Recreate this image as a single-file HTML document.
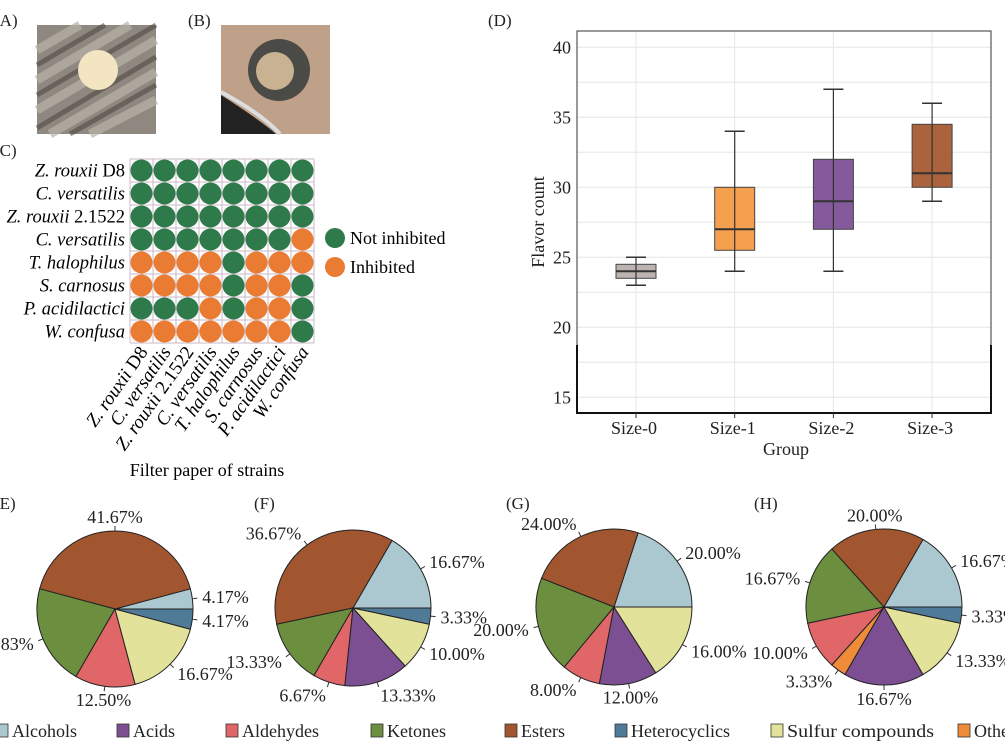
<!DOCTYPE html>
<html><head><meta charset="utf-8"><style>
body{margin:0;background:#fff}
svg{display:block;font-family:"Liberation Serif",serif}
</style></head><body>
<svg id="fig" width="1005" height="754" viewBox="0 0 1005 754">
<g font-size="17" fill="#222">
<text x="-6" y="26">(A)</text>
<text x="188" y="26">(B)</text>
<text x="-6" y="156">(C)</text>
<text x="488" y="26">(D)</text>
<text x="-6" y="509">(E)</text>
<text x="254" y="509">(F)</text>
<text x="506" y="509">(G)</text>
<text x="754" y="509">(H)</text>
</g>
<g>
<rect x="37" y="25" width="119" height="109" fill="#8e8880"/>
<path d="M37 50 L80 25 M37 80 L130 25 M37 110 L156 40 M50 134 L156 72 M90 134 L156 100" stroke="#b9b4a8" stroke-width="9" opacity="0.7"/>
<path d="M37 65 L105 25 M37 95 L156 25 M37 128 L156 57 M70 134 L156 85" stroke="#4f4a44" stroke-width="5" opacity="0.6"/>
<circle cx="98" cy="70" r="20" fill="#f3e4c2"/>
</g>
<g>
<rect x="221" y="25" width="109" height="109" fill="#bfa088"/>
<path d="M221 95 Q260 120 276 134 L221 134 Z" fill="#222"/>
<path d="M221 92 Q262 114 280 134" stroke="#ddd" stroke-width="4" fill="none"/>
<circle cx="279" cy="70" r="31" fill="#4a4a46"/>
<circle cx="275" cy="71" r="19" fill="#c9b291"/>
</g>
<g id="matrix"></g>
<g font-size="18">
<circle cx="335" cy="238" r="10" fill="#2e7a4a"/>
<text x="350" y="244">Not inhibited</text>
<circle cx="335" cy="267" r="10" fill="#ea7b33"/>
<text x="350" y="273">Inhibited</text>
</g>
<text x="207" y="476" font-size="18" text-anchor="middle">Filter paper of strains</text>
<g id="box"></g>
<g id="pies"></g>
<g id="pielegend" font-size="18"></g>
</svg>
<script>
const NS="http://www.w3.org/2000/svg";
function mk(p,tag,attrs){const e=document.createElementNS(NS,tag);for(const k in attrs)e.setAttribute(k,attrs[k]);p.appendChild(e);return e;}

// ---- Panel C data ----
const strains=["Z. rouxii D8","C. versatilis","Z. rouxii 2.1522","C. versatilis","T. halophilus","S. carnosus","P. acidilactici","W. confusa"];
const strainPrefix=[["Z. rouxii"," D8"],["C. versatilis",""],["Z. rouxii"," 2.1522"],["C. versatilis",""],["T. halophilus",""],["S. carnosus",""],["P. acidilactici",""],["W. confusa",""]];
const notInhibited=[
[1,1,1,1,1,1,1,1],
[1,1,1,1,1,1,1,1],
[1,1,1,1,1,1,1,1],
[1,1,1,1,1,1,1,0],
[0,0,0,0,1,0,0,0],
[0,0,0,0,1,0,0,1],
[1,1,1,0,1,0,0,1],
[0,0,0,0,0,0,0,1]];

// ---- Panel D data ----
const groups=["Size-0","Size-1","Size-2","Size-3"];
const whiskLo=[23,24,24,29];
const q1=[23.5,25.5,27,30];
const med=[24,27,29,31];
const q3=[24.5,30,32,34.5];
const whiskHi=[25,34,37,36];
const yTicks=[15,20,25,30,35,40];
const boxColors=["#b9b0ae","#f39b45","#7d5197","#a65b33"];

// ---- Pie data (CCW from 3 o'clock) ----
const classes=["Alcohols","Esters","Ketones","Aldehydes","Others","Acids","Sulfur compounds","Heterocyclics"];
const classColors=["#abc7cf","#a2562f","#6c8e3f","#e06668","#ef8c3a","#7b4f92","#e2e29b","#4f7b98"];
const pieE=[4.17,41.67,20.83,12.50,0,0,16.67,4.17];
const pieF=[16.67,36.67,13.33,6.67,0,13.33,10.00,3.33];
const pieG=[20.00,24.00,20.00,8.00,0,12.00,16.00,0];
const pieH=[16.67,20.00,16.67,10.00,3.33,16.67,13.33,3.33];
const legendOrder=["Alcohols","Acids","Aldehydes","Ketones","Esters","Heterocyclics","Sulfur compounds","Others"];

// ---- Draw matrix ----
(function(){
const g=document.getElementById('matrix');
const x0=130,y0=159,c=23;
for(let i=0;i<=8;i++){
 const l1=mk(g,'line',{x1:x0,x2:x0+8*c,y1:y0+i*c,y2:y0+i*c,stroke:'#c9b9c4','stroke-width':1});
 
 
 const l2=mk(g,'line',{y1:y0,y2:y0+8*c,x1:x0+i*c,x2:x0+i*c,stroke:'#c9b9c4','stroke-width':1});
 
 
}
notInhibited.forEach((row,r)=>{
 row.forEach((v,ci)=>{
  const e=mk(g,'circle',{cx:x0+ci*c+c/2,cy:y0+r*c+c/2,r:11,fill:v?'#2e7a4a':'#ea7b33'});
  
  
 });
 const t=mk(g,'text',{x:125,y:y0+r*c+c/2+6,'text-anchor':'end','font-size':18.5});
 
 
 const a=mk(t,'tspan',{'font-style':'italic'});a.textContent=strainPrefix[r][0];
 if(strainPrefix[r][1]){const b=mk(t,'tspan',{});b.textContent=strainPrefix[r][1];}
});
strains.forEach((s,ci)=>{
 const cx=x0+ci*c+c/2+7, cy=352;
 const t=mk(g,'text',{x:cx,y:cy,'text-anchor':'end','font-size':19,transform:`rotate(-55 ${cx} ${cy})`});
 
 
 const a=mk(t,'tspan',{'font-style':'italic'});a.textContent=strainPrefix[ci][0];
 if(strainPrefix[ci][1]){const b=mk(t,'tspan',{});b.textContent=strainPrefix[ci][1];}
});
})();

// ---- Draw boxplot ----
(function(){
const g=document.getElementById('box');
const L=577,R=991,T=31,B=413;
const Y=v=>47.3+(40-v)*14;
const X=i=>636+i*98.7;
for(let v=15;v<=40;v+=2.5){
 const l=mk(g,'line',{x1:L,x2:R,y1:Y(v),y2:Y(v),stroke:'#e6e6e6','stroke-width':1});
 
 
}
groups.forEach((gname,i)=>{
 const l=mk(g,'line',{x1:X(i),x2:X(i),y1:T,y2:B,stroke:'#e6e6e6','stroke-width':1});
 
 
});
const fr=mk(g,'rect',{x:L,y:T,width:R-L,height:B-T,fill:'none',stroke:'#333','stroke-width':1});


const fb=mk(g,'path',{d:`M${L} 345 V${B} H${R} V345`,fill:'none',stroke:'#111','stroke-width':2});


yTicks.forEach(v=>{
 const t=mk(g,'text',{x:L-6,y:Y(v)+6,'text-anchor':'end','font-size':18,fill:'#222'});
 
 
 t.textContent=v;
});
groups.forEach((gname,i)=>{
 const x=X(i),w=40;
 const wl=mk(g,'line',{x1:x,x2:x,y1:Y(whiskHi[i]),y2:Y(whiskLo[i]),stroke:'#333','stroke-width':1.2});
 
 
 [whiskHi[i],whiskLo[i]].forEach(v=>{
  const c=mk(g,'line',{x1:x-10,x2:x+10,y1:Y(v),y2:Y(v),stroke:'#333','stroke-width':1.5});
  
  
 });
 const r=mk(g,'rect',{x:x-w/2,y:Y(q3[i]),width:w,height:Y(q1[i])-Y(q3[i]),fill:boxColors[i],stroke:'#444','stroke-width':1,'fill-opacity':0.95});
 
 
 const ml=mk(g,'line',{x1:x,x2:x,y1:Y(q3[i]),y2:Y(q1[i]),stroke:'#333','stroke-width':1.2});
 
 
 const m=mk(g,'line',{x1:x-w/2,x2:x+w/2,y1:Y(med[i]),y2:Y(med[i]),stroke:'#333','stroke-width':2});
 
 
 const tk=mk(g,'line',{x1:x,x2:x,y1:B,y2:B+5,stroke:'#333'});
 
 
 const t=mk(g,'text',{x:x-2,y:434,'text-anchor':'middle','font-size':18,fill:'#222'});
 
 
 t.textContent=gname;
});
const xt=mk(g,'text',{x:786,y:455,'text-anchor':'middle','font-size':18,fill:'#222'});


xt.textContent='Group';
const yt=mk(g,'text',{x:544,y:222,'text-anchor':'middle','font-size':18,fill:'#222',transform:'rotate(-90 544 222)'});


yt.textContent='Flavor count';
})();

// ---- Draw pies ----
(function(){
const g=document.getElementById('pies');
const pies=[pieE,pieF,pieG,pieH];
const centers=[[115,609],[353,608],[614,607],[884,607]];
const r=78;
pies.forEach((vals,pi)=>{
 const [cx,cy]=centers[pi];
 const pg=mk(g,'g',{});
 
 
 const total=vals.reduce((a,b)=>a+b,0);
 let a0=0;
 vals.forEach((v,k)=>{
  if(v<=0)return;
  const a1=a0+v/total*2*Math.PI;
  const x0=cx+r*Math.cos(a0),y0=cy-r*Math.sin(a0),x1=cx+r*Math.cos(a1),y1=cy-r*Math.sin(a1);
  const large=(a1-a0)>Math.PI?1:0;
  const p=mk(pg,'path',{d:`M${cx} ${cy} L${x0} ${y0} A${r} ${r} 0 ${large} 0 ${x1} ${y1} Z`,fill:classColors[k],stroke:'#222','stroke-width':1});
  
  
  const am=(a0+a1)/2,ca=Math.cos(am),sa=-Math.sin(am);
  const tk=mk(pg,'line',{x1:cx+r*ca,y1:cy+r*sa,x2:cx+(r+5)*ca,y2:cy+(r+5)*sa,stroke:'#333'});
  
  
  const lx=cx+(r+10)*ca, ly=cy+(r+14)*sa+6;
  const anchor=ca>0.3?'start':(ca<-0.3?'end':'middle');
  const t=mk(pg,'text',{x:lx,y:ly,'text-anchor':anchor,'font-size':18,fill:'#222'});
  
  
  t.textContent=v.toFixed(2)+'%';
  a0=a1;
 });
});
const lg=document.getElementById('pielegend');
const lx=[-4,117,226,371,505,615,771,958];
legendOrder.forEach((name,i)=>{
 const k=classes.indexOf(name);
 const s=mk(lg,'rect',{x:lx[i],y:724,width:12,height:13,fill:classColors[k],stroke:'#333','stroke-width':0.8});
 
 
 const attrs={x:lx[i]+16,y:737,fill:'#222'};
 if(name==='Sulfur compounds'){attrs.textLength=147;attrs.lengthAdjust='spacingAndGlyphs';}
 const t=mk(lg,'text',attrs);
 
 
 t.textContent=name;
});
})();
</script>
</body></html>
